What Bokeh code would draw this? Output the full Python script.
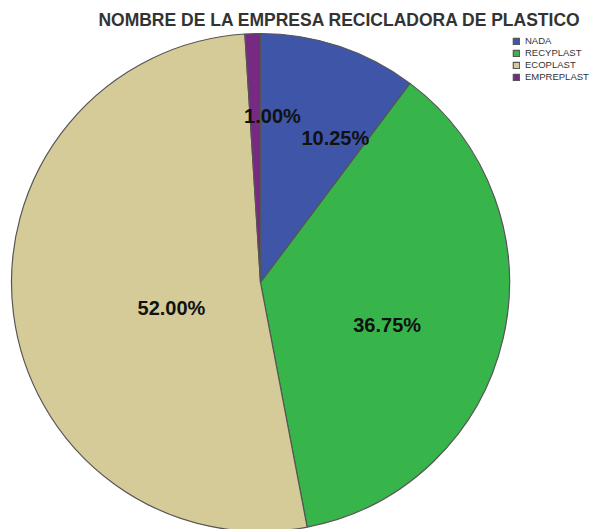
import numpy as np
from bokeh.plotting import figure
from bokeh.models import ColumnDataSource, Range1d, Legend, LegendItem, Label
from bokeh.core.properties import value
from bokeh.embed import file_html
from bokeh.resources import INLINE

# ---- data ----
categories = ["NADA", "RECYPLAST", "ECOPLAST", "EMPREPLAST"]
percentages = [10.25, 36.75, 52.00, 1.00]
colors = ["#3F55A8", "#37B54A", "#D4CB98", "#762A82"]
title_text = "NOMBRE DE LA EMPRESA RECICLADORA DE PLASTICO"

# ---- style / layout ----
W, H = 595, 529
cx, cy, R = 260, 247, 249
label_rfrac = [0.655, 0.537, 0.372, 0.672]
label_dang = [8.85, 5.65, -8.8, 5.9]  # degrees, clockwise tweak

frac = np.array(percentages) / sum(percentages)
cum = np.concatenate([[0], np.cumsum(frac)])
start = np.pi / 2 - cum[:-1] * 2 * np.pi
end = np.pi / 2 - cum[1:] * 2 * np.pi
mid = (start + end) / 2 - np.radians(label_dang)
lx = cx + np.array(label_rfrac) * R * np.cos(mid)
ly = cy + np.array(label_rfrac) * R * np.sin(mid)

src = ColumnDataSource(dict(
    cat=categories, start=start, end=end, color=colors,
    lx=lx, ly=ly, txt=[f"{v:.2f}%" for v in percentages],
))

p = figure(width=W, height=H, output_backend="svg", toolbar_location=None,
           x_range=Range1d(0, W), y_range=Range1d(0, H),
           x_axis_type=None, y_axis_type=None, min_border=0)
p.grid.visible = False
p.outline_line_color = None
p.background_fill_color = "white"

r = p.wedge(x=cx, y=cy, radius=R, start_angle="start", end_angle="end",
            direction="clock", fill_color="color", line_color="#555555",
            line_width=1.2, source=src)

p.text(x="lx", y="ly", text="txt", source=src, text_align="center",
       text_baseline="middle", text_font=value("Liberation Sans"),
       text_font_style="bold", text_font_size="20px", text_color="#111111")

items = [LegendItem(label=c, renderers=[r], index=i) for i, c in enumerate(categories)]
legend = Legend(items=items, location=(512, 447), padding=0, margin=0,
                border_line_color=None, background_fill_alpha=0,
                glyph_width=8, glyph_height=8, label_height=8, spacing=1,
                label_standoff=5, label_text_font_size="9.5px",
                label_text_font="Liberation Sans", label_text_color="#333333")
p.add_layout(legend)

p.add_layout(Label(x=339.5, y=H - 19.5, x_units="screen", y_units="screen",
                   text=title_text, text_align="center", text_baseline="middle",
                   text_font="Liberation Sans", text_font_style="bold",
                   text_font_size="17.5px", text_color="#333333"))

open("out.html", "w").write(file_html(p, INLINE))
